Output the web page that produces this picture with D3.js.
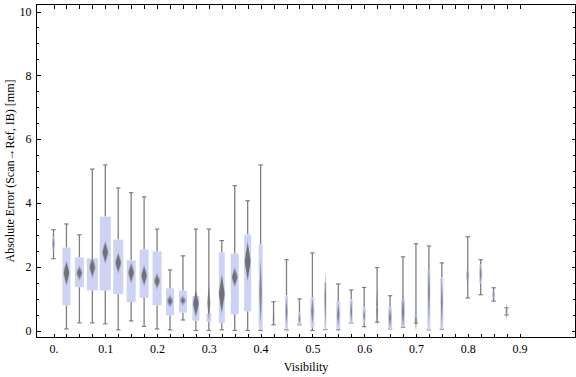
<!DOCTYPE html>
<html>
<head>
<meta charset="utf-8">
<script src="https://cdn.jsdelivr.net/npm/d3@7"></script>
<style>
  body { margin: 0; background: #fff; }
  svg text { font-family: "Liberation Serif", "Times New Roman", serif; }
</style>
</head>
<body>
<div id="chart"></div>
<script>
// visibility bins (0.775 has no data)
const visibility = [0, 0.025, 0.05, 0.075, 0.1, 0.125, 0.15, 0.175, 0.2, 0.225, 0.25, 0.275, 0.3, 0.325, 0.35, 0.375, 0.4,
    0.425, 0.45, 0.475, 0.5, 0.525, 0.55, 0.575, 0.6, 0.625, 0.65, 0.675, 0.7, 0.725, 0.75, 0.8, 0.825, 0.85, 0.875];
const whiskerHi = [3.16, 3.34, 3.0, 5.06, 5.19, 4.47, 4.32, 4.19, 3.18, 1.9, 2.34, 3.18, 3.18, 2.82, 4.54, 4.07, 5.19,
    0.9, 2.22, 0.99, 2.43, 1.49, 1.46, 1.27, 1.35, 1.97, 1.09, 2.31, 2.72, 2.65, 2.12, 2.94, 2.22, 1.34, 0.71];
const boxHi = [2.92, 2.6, 2.29, 2.26, 3.57, 2.85, 2.2, 2.54, 2.48, 1.32, 1.25, 1.08, 0.53, 2.45, 2.41, 3.01, 2.7,
    0.35, 1.1, 0.56, 1.03, 1.49, 0.91, 0.97, 0.72, 0.75, 0.72, 0.97, 0.51, 1.91, 1.66, 1.88, 2.06, 1.21, 0.71];
const medians = [2.72, 1.8, 1.8, 1.98, 2.45, 2.12, 1.81, 1.72, 1.55, 0.92, 0.94, 0.84, 0.86, 1.15, 1.67, 2.17, 1.2,
    0.38, 0.6, 0.36, 0.6, 1.0, 0.5, 0.6, 0.47, 0.7, 0.4, 0.6, 0.3, 1.2, 0.9, 1.72, 1.77, 1.12, 0.6];
const boxLo = [2.55, 0.79, 1.36, 1.26, 1.26, 1.14, 0.89, 1.02, 0.79, 0.48, 0.56, 0.31, 0.28, 0.23, 0.51, 0.6, 0.04,
    0.28, 0.04, 0.18, 0.1, 0.03, 0.04, 0.24, 0.26, 0.7, 0.05, 0.1, 0.24, 0.02, 0.04, 1.58, 1.48, 1.02, 0.49];
const whiskerLo = [2.25, 0.05, 0.24, 0.24, 0.21, 0.02, 0.3, 0.13, 0.05, 0.02, 0.33, 0, 0, 0.02, 0, 0, 0,
    0.18, 0.02, 0.18, 0, 0.03, 0.02, 0.24, 0.12, 0.26, 0.05, 0.1, 0.24, 0.02, 0.04, 1.02, 1.12, 0.92, 0.49];
// relative sample weight (box width)
const weights = [3, 8, 9, 11, 11, 10, 9, 9, 9, 8, 8, 7, 5, 6, 8, 7, 4,
    2.5, 3, 3, 4, 2, 4, 3, 3, 1, 4, 4, 3, 3, 3, 3, 3, 3, 2];
// half height of the density diamond around the median
const spread = [0.2, 0.37, 0.2, 0.3, 0.33, 0.3, 0.3, 0.3, 0.22, 0.16, 0.12, 0.4, 0.55, 0.6, 0.28, 0.6, 1.0,
    0.25, 0.4, 0.15, 0.4, 0.9, 0.35, 0.35, 0.2, 0.6, 0.3, 0.5, 0.3, 1.0, 0.8, 0.25, 0.3, 0.12, 0.25];
// faint density tails beyond the whiskers
const tails = [
    { v: 0.4, lo: -0.6, hi: 0 },
    { v: 0.525, lo: -1.47, hi: 3.92 },
    { v: 0.7, lo: -0.6, hi: 0.24 },
    { v: 0.725, lo: 2.65, hi: 3.1 },
    { v: 0.75, lo: 2.12, hi: 2.5 },
    { v: 0.875, lo: -0.2, hi: 0.95 }
];

const xMinor = d3.range(0, 0.9001, 0.025);
const xMajor = [0, 0.1, 0.2, 0.3, 0.4, 0.5, 0.6, 0.7, 0.8, 0.9];
const yMajor = [0, 2, 4, 6, 8, 10];
const yMinor = d3.range(0, 10.001, 0.5);

const W = 576, H = 377;
const frame = { left: 36.5, right: 575.5, top: 4.5, bottom: 337.5 };

const svg = d3.select("#chart").append("svg")
    .attr("width", W).attr("height", H);

svg.append("rect").attr("width", W).attr("height", H).attr("fill", "#fff");

const x = d3.scaleLinear().domain([0, 0.9]).range([53.5, 519.5]);
const y = d3.scaleLinear().domain([0, 10]).range([330.5, 11.5]);
const w = d3.scaleLinear().domain([0, 11]).range([0, 11]);

const defs = svg.append("defs");
defs.append("filter").attr("id", "soft")
    .attr("x", "-150%").attr("y", "-50%").attr("width", "400%").attr("height", "200%")
    .append("feGaussianBlur").attr("stdDeviation", "0.6 1.6");
defs.append("filter").attr("id", "tail")
    .attr("x", "-200%").attr("y", "-20%").attr("width", "500%").attr("height", "140%")
    .append("feGaussianBlur").attr("stdDeviation", "0.3 1.5");

const rows = visibility.map((v, i) => ({
    v, wHi: whiskerHi[i], qHi: boxHi[i], med: medians[i], qLo: boxLo[i], wLo: whiskerLo[i],
    n: weights[i], s: spread[i]
}));

// faint tails
svg.append("g")
    .selectAll("line")
    .data(tails)
    .join("line")
    .attr("x1", d => x(d.v)).attr("x2", d => x(d.v))
    .attr("y1", d => y(d.lo)).attr("y2", d => y(d.hi))
    .attr("stroke", "#888")
    .attr("stroke-opacity", d => d.v === 0.525 ? 0.5 : 0.3)
    .attr("stroke-width", 1.2)
    .attr("filter", "url(#tail)");

const g = svg.append("g").selectAll("g")
    .data(rows)
    .join("g");

const wc = "#7f7f7f";

// upper and lower whiskers
g.append("line")
    .attr("x1", d => x(d.v)).attr("x2", d => x(d.v))
    .attr("y1", d => y(d.wHi)).attr("y2", d => y(d.qHi))
    .attr("stroke", wc).attr("stroke-width", 1.3);
g.append("line")
    .attr("x1", d => x(d.v)).attr("x2", d => x(d.v))
    .attr("y1", d => y(d.qLo)).attr("y2", d => y(d.wLo))
    .attr("stroke", wc).attr("stroke-width", 1.3);
// caps (0.525 has none on top)
g.filter(d => d.v !== 0.525)
    .append("line")
    .attr("x1", d => x(d.v) - 2.2).attr("x2", d => x(d.v) + 2.2)
    .attr("y1", d => y(d.wHi)).attr("y2", d => y(d.wHi))
    .attr("stroke", wc).attr("stroke-width", 1.2);
g.append("line")
    .attr("x1", d => x(d.v) - 2.2).attr("x2", d => x(d.v) + 2.2)
    .attr("y1", d => y(d.wLo)).attr("y2", d => y(d.wLo))
    .attr("stroke", wc).attr("stroke-width", 1.2);

// boxes
g.append("rect")
    .attr("x", d => x(d.v) - w(d.n) / 2)
    .attr("width", d => w(d.n))
    .attr("y", d => y(d.qHi))
    .attr("height", d => Math.max(0, y(d.qLo) - y(d.qHi)))
    .attr("fill", "#ccd3f5");

// median density diamonds
g.append("path")
    .attr("d", d => {
        const cx = x(d.v), cy = y(d.med);
        const hw = d.n >= 6 ? 3 : Math.max(0.8, w(d.n) * 0.32);
        const top = y(d.med + d.s), bot = y(d.med - d.s);
        return `M${cx},${top}L${cx + hw},${cy}L${cx},${bot}L${cx - hw},${cy}Z`;
    })
    .attr("fill", "#6c6c6c")
    .attr("fill-opacity", d => d.n >= 6 ? 0.95 : 0.75)
    .attr("filter", "url(#soft)");

// frame
svg.append("rect")
    .attr("x", frame.left).attr("y", frame.top)
    .attr("width", frame.right - frame.left)
    .attr("height", frame.bottom - frame.top)
    .attr("fill", "none").attr("stroke", "#000").attr("stroke-width", 1);

// ticks
const tickStyle = sel => {
    sel.select(".domain").remove();
    sel.selectAll(".tick line").attr("stroke", "#000").attr("shape-rendering", "crispEdges");
};
svg.append("g").attr("transform", `translate(0,${frame.bottom})`)
    .call(d3.axisBottom(x).tickValues(xMinor).tickSize(-4).tickFormat(""))
    .call(tickStyle);
svg.append("g").attr("transform", `translate(0,${frame.top})`)
    .call(d3.axisTop(x).tickValues(xMinor).tickSize(-4).tickFormat(""))
    .call(tickStyle);
svg.append("g").attr("transform", `translate(${frame.left},0)`)
    .call(d3.axisLeft(y).tickValues(yMinor).tickSize(-2.5).tickFormat(""))
    .call(tickStyle);
svg.append("g").attr("transform", `translate(${frame.left},0)`)
    .call(d3.axisLeft(y).tickValues(yMajor).tickSize(-4).tickFormat(""))
    .call(tickStyle);
svg.append("g").attr("transform", `translate(${frame.right},0)`)
    .call(d3.axisRight(y).tickValues(yMinor).tickSize(-2.5).tickFormat(""))
    .call(tickStyle);
svg.append("g").attr("transform", `translate(${frame.right},0)`)
    .call(d3.axisRight(y).tickValues(yMajor).tickSize(-4).tickFormat(""))
    .call(tickStyle);

// tick labels
const xLabels = svg.append("g").attr("transform", `translate(0,${frame.bottom})`)
    .call(d3.axisBottom(x).tickValues(xMajor).tickSize(0).tickPadding(7)
        .tickFormat(d => d === 0 ? "0." : d3.format(".1f")(d)));
xLabels.select(".domain").remove();
xLabels.selectAll("text").attr("font-size", 12).attr("fill", "#000")
    .attr("font-family", "Liberation Serif");

const yLabels = svg.append("g").attr("transform", `translate(${frame.left},0)`)
    .call(d3.axisLeft(y).tickValues(yMajor).tickSize(0).tickPadding(5));
yLabels.select(".domain").remove();
yLabels.selectAll("text").attr("font-size", 12).attr("fill", "#000")
    .attr("font-family", "Liberation Serif");

// axis titles
svg.append("text")
    .attr("x", (frame.left + frame.right) / 2)
    .attr("y", 371)
    .attr("text-anchor", "middle")
    .attr("font-size", 12)
    .text("Visibility");

svg.append("text")
    .attr("transform", `translate(13.5,${(frame.top + frame.bottom) / 2}) rotate(-90)`)
    .attr("text-anchor", "middle")
    .attr("font-size", 12)
    .text("Absolute Error (Scan\u2192Ref, IB) [mm]");
</script>
</body>
</html>
